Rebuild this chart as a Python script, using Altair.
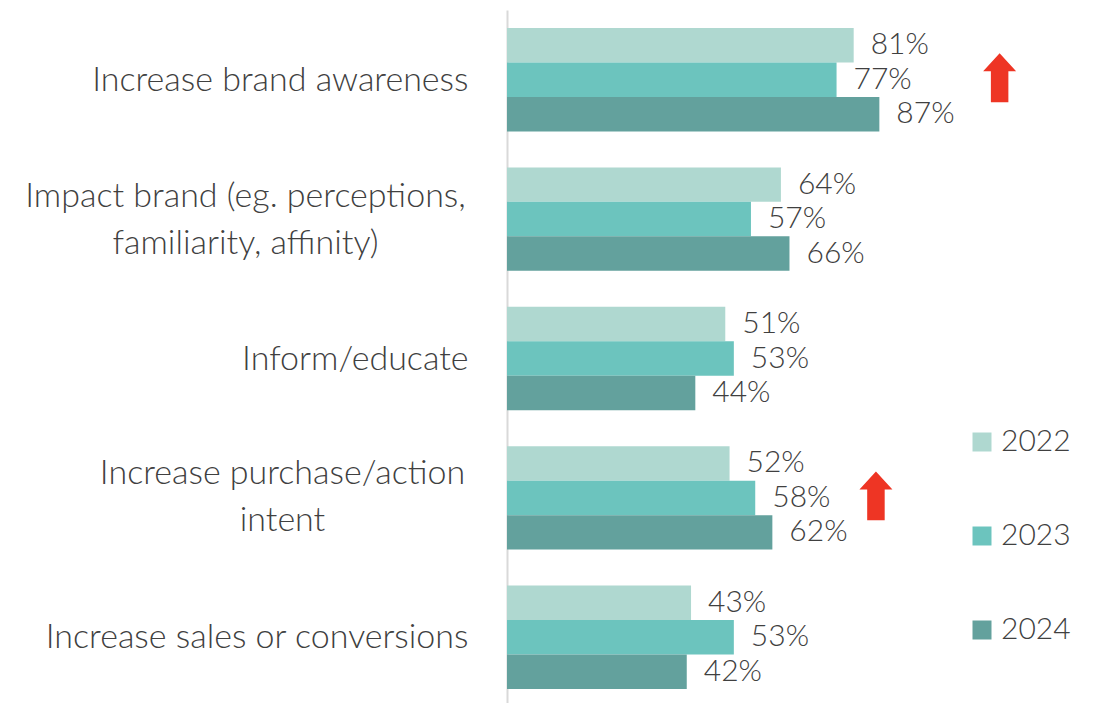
import altair as alt
import pandas as pd

categories = [
    "Increase brand awareness",
    "Impact brand (eg. perceptions,|familiarity, affinity)",
    "Inform/educate",
    "Increase purchase/action|intent",
    "Increase sales or conversions",
]
years = ["2022", "2023", "2024"]
values_2022 = [81, 64, 51, 52, 43]
values_2023 = [77, 57, 53, 58, 53]
values_2024 = [87, 66, 44, 62, 42]
year_colors = ["#AFD8D0", "#6CC4BE", "#63A19D"]

arrow_categories = [categories[0], categories[3]]
arrow_positions = [115.1, 86.2]

rows = []
for year, vals in zip(years, [values_2022, values_2023, values_2024]):
    for cat, v in zip(categories, vals):
        rows.append({"category": cat, "year": year, "value": v, "label": f"{v}%"})
df = pd.DataFrame(rows)
arrow_df = pd.DataFrame({"category": arrow_categories, "pos": arrow_positions})

FONT = "Lato"
TXT = "#404040"

y_axis = alt.Axis(
    title=None,
    ticks=False,
    domain=True,
    domainColor="#d9d9d9",
    domainWidth=2,
    labelExpr="split(datum.label, '|')",
    labelFont=FONT,
    labelFontSize=34,
    labelFontWeight=300,
    labelColor=TXT,
    labelLimit=700,
    labelLineHeight=47,
    labelAlign={"condition": {"test": "indexof(datum.value, '|') >= 0", "value": "center"}, "value": "right"},
    labelPadding={
        "condition": [
            {"test": "indexof(datum.value, 'Impact') == 0", "value": 262},
            {"test": "indexof(datum.value, 'purchase') >= 0", "value": 225},
        ],
        "value": 39,
    },
    labelOffset={
        "condition": [
            {"test": "indexof(datum.value, 'Impact') == 0", "value": -22},
            {"test": "indexof(datum.value, 'purchase') >= 0", "value": -24},
        ],
        "value": 1,
    },
    minExtent=499,
    maxExtent=499,
)

y_enc = alt.Y("category:N", sort=categories, axis=y_axis,
              scale=alt.Scale(paddingInner=0.258, paddingOuter=0.129))
yoff = alt.YOffset("year:N", sort=years, scale=alt.Scale(paddingInner=0, paddingOuter=0))
x_enc = alt.X("value:Q", scale=alt.Scale(domain=[0, 100]), axis=None)

base = alt.Chart(df).encode(y=y_enc, yOffset=yoff, x=x_enc)

bars = base.mark_bar().encode(
    color=alt.Color(
        "year:N",
        sort=years,
        scale=alt.Scale(domain=years, range=year_colors),
        legend=alt.Legend(
            title=None,
            orient="none",
            legendX=460,
            legendY=417,
            symbolType="square",
            symbolSize=361,
            symbolStrokeWidth=0,
            labelFont=FONT,
            labelFontSize=30,
            labelFontWeight=300,
            labelColor=TXT,
            labelOffset=4,
            rowPadding=64,
        ),
    )
)

texts = base.mark_text(
    align="left", baseline="middle", dx=17, font=FONT, fontSize=30, fontWeight=300, color=TXT
).encode(text="label:N")

arrow_path = "M-0.53,1.36 L0.53,1.36 L0.53,-0.51 L1,-0.51 L0,-1.6 L-1,-0.51 L-0.53,-0.51 Z"
arrows = alt.Chart(arrow_df).mark_point(
    shape=arrow_path, filled=True, size=1089, color="#EE3524", opacity=1, strokeWidth=0
).encode(
    x=alt.X("pos:Q", scale=alt.Scale(domain=[0, 100])),
    y=alt.Y("category:N", sort=categories),
)

chart = (
    alt.layer(bars, texts, arrows)
    .properties(width=428, height=697, padding={"left": 0, "top": 2, "right": 5, "bottom": 5})
    .configure_view(stroke=None)
)

chart.save("out.html", embed_options={"renderer": "svg", "actions": False})
